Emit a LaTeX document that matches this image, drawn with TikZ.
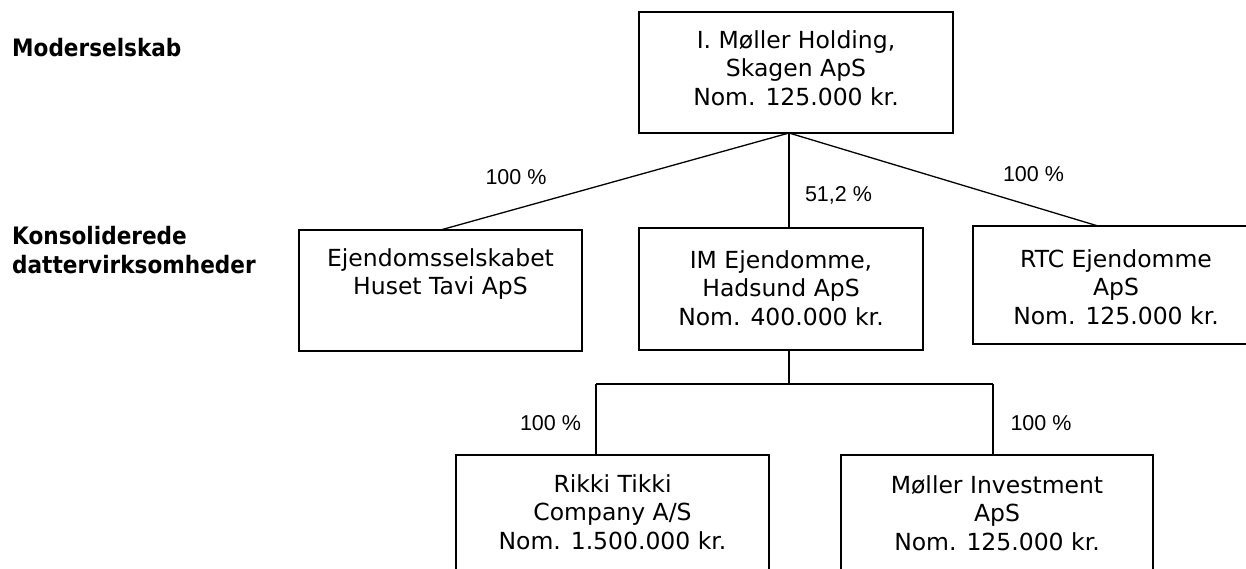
\documentclass[tikz,border=0pt]{standalone}
\usepackage{fontspec}
\setmainfont{DejaVu Sans}
\newfontfamily\lblfont{DejaVu Sans}[FakeStretch=0.9]
\newfontfamily\pctfont{Liberation Sans}
\begin{document}
\begin{tikzpicture}[x=1pt,y=-1pt,
  box/.style={draw, line width=1.3pt, rectangle, inner sep=0pt, outer sep=0pt},
  txt/.style={align=center, inner sep=0pt, font=\fontsize{23.5}{28.5}\selectfont},
  lbl/.style={align=left, inner sep=0pt, anchor=west, font=\lblfont\bfseries\fontsize{24}{28.5}\selectfont},
  pct/.style={inner sep=0pt, font=\pctfont\fontsize{21.5}{24}\selectfont},
  link/.style={line width=1.3pt}]
\useasboundingbox (0,0) rectangle (1246,569);
\clip (0,0) rectangle (1246,569);

% boxes
\node[box, minimum width=314pt, minimum height=121pt] (top)    at (796,72.5)  {};
\node[box, minimum width=283pt, minimum height=121pt] (left)   at (440.5,290.5) {};
\node[box, minimum width=284pt, minimum height=122pt] (mid)    at (781,289)   {};
\node[box, minimum width=286pt, minimum height=118pt] (right)  at (1116,285)  {};
\node[box, minimum width=313pt, minimum height=130pt] (rikki)  at (612.5,520) {};
\node[box, minimum width=312pt, minimum height=130pt] (moller) at (997,520)   {};

% box texts
\node[txt] (toptxt)    at (796,68)    {I. Møller Holding,\\Skagen ApS\\Nom. 125.000 kr.};
\node[txt] (lefttxt)   at (440.5,274) {Ejendomsselskabet\\Huset Tavi ApS};
\node[txt] (midtxt)    at (781,288)   {IM Ejendomme,\\Hadsund ApS\\Nom. 400.000 kr.};
\node[txt] (righttxt)  at (1116,287)  {RTC Ejendomme\\ApS\\Nom. 125.000 kr.};
\node[txt] (rikkitxt)  at (612.5,512) {Rikki Tikki\\Company A/S\\Nom. 1.500.000 kr.};
\node[txt] (mollertxt) at (997,513)   {Møller Investment\\ApS\\Nom. 125.000 kr.};

% level labels
\node[lbl] (moder) at (12,47.5) {Moderselskab};
\node[lbl] (kons)  at (12,250)  {Konsoliderede\\dattervirksomheder};

% connectors
\coordinate (apex) at ([xshift=-7pt]top.south);
\coordinate (busL) at (596,384);
\coordinate (busR) at (993,384);
\draw[link] (apex) -- (left.north);
\draw[link] (apex) -- (apex |- mid.north);
\draw[link] (apex) -- ([xshift=-18pt]right.north);
\draw[link] (apex |- mid.south) -- (apex |- busL);
\draw[link] (busL) -- (busR);
\draw[link] (busL) -- (busL |- rikki.north);
\draw[link] (busR) -- (busR |- moller.north);

% percentages
\node[pct] (p1) at (516,177.5)  {100 \%};
\node[pct] (p2) at (838.5,195)  {51,2 \%};
\node[pct] (p3) at (1033.5,174) {100 \%};
\node[pct] (p4) at (550.5,423)  {100 \%};
\node[pct] (p5) at (1041,423)   {100 \%};
\end{tikzpicture}
\end{document}
